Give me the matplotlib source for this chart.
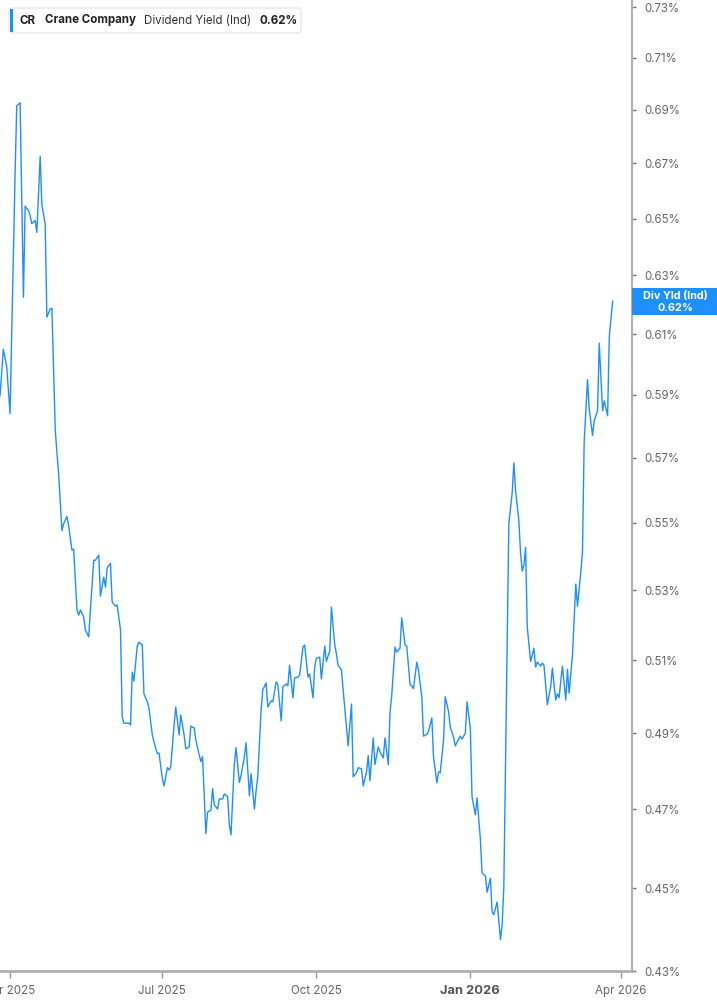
import pandas as pd
import matplotlib
matplotlib.use("Agg")
import matplotlib.pyplot as plt
from matplotlib.patches import FancyBboxPatch, Rectangle
from matplotlib.ticker import FixedLocator, NullLocator

plt.rcParams['font.family'] = ['Inter', 'DejaVu Sans']

# days counted from 2025-04-01
start = pd.Timestamp('2025-04-01')
day_offset = [
    -6, -4, -2, -1, 0, 3, 4, 6, 8, 9, 11, 12, 13, 15, 16, 18, 19, 21, 22, 24,
    25, 27, 28, 29, 31, 32, 34, 35, 37, 38, 40, 41, 42, 44, 45, 47, 48, 50, 51, 53,
    54, 56, 57, 58, 60, 61, 63, 64, 66,
    67, 68, 71, 72, 73, 74, 76, 77, 79, 80, 82, 83, 85, 86, 88, 89, 91, 92, 94, 95,
    96, 98, 99, 101, 102, 104, 105, 107, 108, 110, 111, 112, 114, 115, 117, 118, 120, 121, 122, 124,
    125, 127, 128, 130, 131, 132, 134, 135, 137, 138, 140, 141, 143, 144, 146, 147,
    148, 150, 151, 153, 154, 156, 157, 159, 160, 162, 163, 165, 166, 167, 169, 170, 172, 173, 175, 176,
    178, 179, 181, 182, 183, 185, 186, 188, 189, 191, 192, 194, 195, 196, 198, 199, 201, 202, 204, 205,
    207, 208, 210, 211, 213, 214, 215, 217, 218, 220, 221, 223, 224, 226, 227, 228, 230, 231, 233, 234,
    236, 237,
    239, 240, 241, 243, 244, 246, 247, 249, 250, 252, 253, 255, 256, 257, 259, 260, 262, 263, 265, 266,
    268, 269, 270, 272, 273, 275, 276, 278, 279, 281, 282, 284, 285, 287, 288, 289, 291, 293, 294, 295,
    298, 300, 301, 302, 304, 305, 306, 307, 308, 309, 311, 313, 314, 315, 317, 318, 319, 321, 323, 324,
    326, 327, 328, 330, 332, 333, 334, 336,
    338, 339, 341, 342, 343, 345, 346, 348, 349, 351, 352, 354, 355, 357, 358, 360,
]
# dividend yield (Ind), percent
div_yield = [
    0.5897, 0.605, 0.5993, 0.5917, 0.584, 0.666, 0.6915, 0.6927, 0.6225, 0.6544,
    0.6529, 0.6511, 0.6482, 0.6493, 0.6451, 0.6726, 0.6551, 0.6479, 0.6158, 0.6185,
    0.6188, 0.5789, 0.5716, 0.5653, 0.5476, 0.5497, 0.5519, 0.5491, 0.5418, 0.5421,
    0.5243, 0.5228, 0.5243, 0.5223, 0.5186, 0.5166, 0.5243, 0.5388, 0.5388, 0.5403,
    0.5283, 0.5338, 0.5309, 0.5365, 0.5379, 0.5266, 0.5254, 0.5257, 0.5186,
    0.4944, 0.4927, 0.4927, 0.4922, 0.5067, 0.5042, 0.514, 0.5151, 0.5143, 0.5007,
    0.4985, 0.4968, 0.4895, 0.4876, 0.4845, 0.4847, 0.4779, 0.476, 0.4808, 0.4802,
    0.481, 0.4922, 0.4971, 0.4895, 0.4949, 0.4895, 0.4858, 0.4863, 0.4919, 0.4914,
    0.4882, 0.4861, 0.4824, 0.4837, 0.4637, 0.4692, 0.4697, 0.4753, 0.4711, 0.47,
    0.4726, 0.4726, 0.4739, 0.4732, 0.466, 0.4634, 0.4818, 0.4861, 0.4769, 0.4787,
    0.4837, 0.4874, 0.4734, 0.4792, 0.47, 0.4747,
    0.4784, 0.4963, 0.5018, 0.5037, 0.4971, 0.4988, 0.4985, 0.504, 0.5032, 0.4933,
    0.5026, 0.5034, 0.5029, 0.5086, 0.4996, 0.5051, 0.5053, 0.5059, 0.5137, 0.5143,
    0.5053, 0.5062, 0.4996, 0.5081, 0.5106, 0.5109, 0.5048, 0.514, 0.5097, 0.5126,
    0.5251, 0.5143, 0.5117, 0.5086, 0.5073, 0.5018, 0.4914, 0.4866, 0.4979, 0.4784,
    0.4795, 0.4808, 0.4805, 0.476, 0.4797, 0.484, 0.4774, 0.4887, 0.4816, 0.4863,
    0.485, 0.4834, 0.4887, 0.4816, 0.4955, 0.5001, 0.5137, 0.5123, 0.5134, 0.522,
    0.5143, 0.514,
    0.5032, 0.5029, 0.5021, 0.5095, 0.5073, 0.4999, 0.4892, 0.4897, 0.4905, 0.4941,
    0.4837, 0.4768, 0.4797, 0.4795, 0.4882, 0.4999, 0.4958, 0.4916, 0.4889, 0.4866,
    0.4884, 0.4892, 0.4884, 0.49, 0.4985, 0.4914, 0.4732, 0.4685, 0.4729, 0.4622,
    0.4538, 0.453, 0.449, 0.4525, 0.4442, 0.4435, 0.4466, 0.4375, 0.4411, 0.4502,
    0.5497, 0.5591, 0.5684, 0.56, 0.5506, 0.5409, 0.5356, 0.5374, 0.5426, 0.5194,
    0.5097, 0.5134, 0.5081, 0.5095, 0.5084, 0.5092, 0.5086, 0.4977, 0.5026, 0.5078,
    0.499, 0.5007, 0.4996, 0.5084, 0.499, 0.5075, 0.5009, 0.5114,
    0.5318, 0.5254, 0.5353, 0.5412, 0.5748, 0.595, 0.5856, 0.577, 0.5817, 0.5849,
    0.607, 0.5849, 0.5881, 0.5833, 0.609, 0.6212,
]

tick_dates = ['2025-04-01', '2025-07-01', '2025-10-01', '2026-01-01', '2026-04-01']
tick_labels = ['Apr 2025', 'Jul 2025', 'Oct 2025', 'Jan 2026', 'Apr 2026']
y_ticks = [0.43, 0.45, 0.47, 0.49, 0.51, 0.53, 0.55, 0.57, 0.59, 0.61,
           0.63, 0.65, 0.67, 0.69, 0.71, 0.73]

ticker_name = 'CR'
company = 'Crane Company'
metric = 'Dividend Yield (Ind)'
short_metric = 'Div Yld (Ind)'

blue = '#1e8fff'
W, H = 717, 1005

dates = start + pd.to_timedelta(day_offset, unit='D')
last = div_yield[-1]

fig = plt.figure(figsize=(W / 100, H / 100), dpi=100)
ax = fig.add_axes([0, 1 - 971 / H, 632 / W, 971 / H])

ax.plot(dates, div_yield, color=blue, lw=1.0, solid_joinstyle='round')

ax.set_yscale('log')
ax.set_ylim(0.43, 0.7329)
ax.set_xlim(pd.Timestamp('2025-03-26'), pd.Timestamp('2026-04-07 14:00'))

ax.yaxis.tick_right()
ax.yaxis.set_major_locator(FixedLocator(y_ticks))
ax.yaxis.set_minor_locator(NullLocator())
ax.set_yticklabels([f'{v:.2f}%' for v in y_ticks])
ax.tick_params(axis='y', which='major', length=3, width=1, color='#777777',
               pad=6, labelsize=8.3, labelcolor='#666666')

ax.set_xticks(pd.to_datetime(tick_dates))
ax.set_xticklabels(tick_labels)
ax.tick_params(axis='x', length=5, width=1, color='#999999', pad=5,
               labelsize=8.3, labelcolor='#666666')
for lab in ax.get_xticklabels():
    if lab.get_text().startswith('Jan'):
        lab.set_fontweight('bold')
        lab.set_color('#555555')
        lab.set_fontsize(9.3)

for side in ['top', 'left']:
    ax.spines[side].set_visible(False)
ax.spines['right'].set_color('#b0b0b0')
ax.spines['right'].set_linewidth(1.5)
ax.spines['bottom'].set_color('#b0b0b0')
ax.spines['bottom'].set_linewidth(2)


def fx(px):
    return px / W


def fy(py):
    return 1 - py / H


# legend box top-left
box = FancyBboxPatch((fx(9), fy(33)), fx(292), 25 / H,
                     boxstyle='round,pad=0,rounding_size=0.004',
                     transform=fig.transFigure, facecolor='white',
                     edgecolor='#e3e3e3', lw=0.8, zorder=5)
fig.patches.append(box)
fig.patches.append(Rectangle((fx(10), fy(32)), fx(3), 23 / H,
                             transform=fig.transFigure, facecolor=blue,
                             edgecolor='none', zorder=6))
ty = fy(20.5)
fs = 8.3
fig.text(fx(20), ty, ticker_name, fontsize=fs, weight='bold', color='#222222', va='center', zorder=7)
fig.text(fx(45), ty, company, fontsize=fs, weight='bold', color='#222222', va='center', zorder=7)
fig.text(fx(144), ty, metric, fontsize=fs, color='#333333', va='center', zorder=7)
fig.text(fx(259), ty, f'{last:.2f}%', fontsize=fs, weight='bold', color='#222222', va='center', zorder=7)

# last value tag on the right axis
fig.patches.append(Rectangle((fx(632), fy(315)), fx(85), 27 / H,
                             transform=fig.transFigure, facecolor=blue,
                             edgecolor='none', zorder=6))
fig.text(fx(675), fy(296), short_metric, fontsize=7.8, weight='bold', color='white',
         ha='center', va='center', zorder=7)
fig.text(fx(675), fy(308), f'{last:.2f}%', fontsize=7.8, weight='bold', color='white',
         ha='center', va='center', zorder=7)

fig.savefig('out.png', dpi=100, facecolor='white')
